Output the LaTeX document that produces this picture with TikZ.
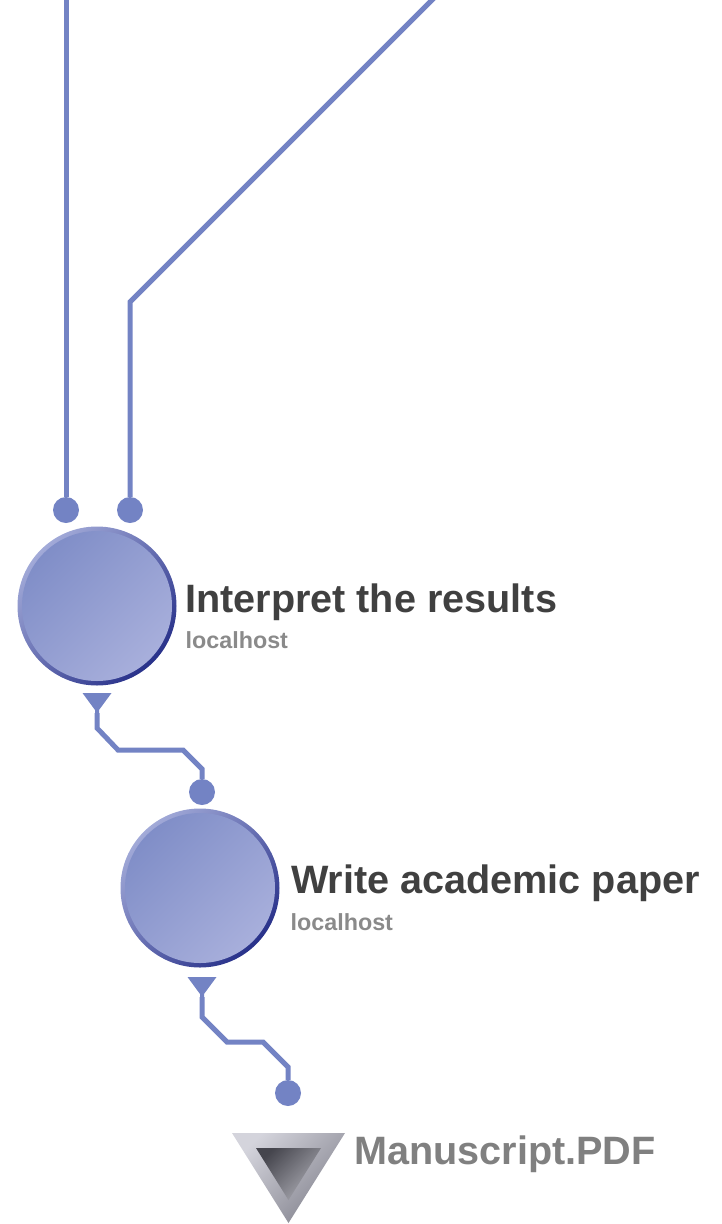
\documentclass[tikz,border=0pt]{standalone}
\usepackage{fontspec}
\setmainfont{Liberation Sans}
\definecolor{wireblue}{HTML}{7383C4}
\definecolor{rimlight}{HTML}{A2AAD8}
\definecolor{rimdark}{HTML}{28318A}
\definecolor{disklight}{HTML}{7F8DC7}
\definecolor{diskdark}{HTML}{A9B0DC}
\definecolor{titlegray}{HTML}{404040}
\definecolor{hostgray}{HTML}{8A8A8A}
\definecolor{pdfgray}{HTML}{808080}
\definecolor{bevellight}{HTML}{D4D4DC}
\definecolor{beveldark}{HTML}{83838E}
\definecolor{holedark}{HTML}{45454D}
\definecolor{holelight}{HTML}{AAAAB2}
\begin{document}
\begin{tikzpicture}[x=1pt,y=-1pt,
  wire/.style={draw=wireblue, line width=5pt, line join=miter},
  port/.style={circle, fill=wireblue, minimum size=26pt, inner sep=0pt},
  task/.style={circle, minimum size=159pt, inner sep=0pt,
    top color=rimlight, bottom color=rimdark, shading angle=45,
    path picture={\shade[top color=disklight, bottom color=diskdark, shading angle=45]
      (path picture bounding box.center) circle (75pt);}},
  funnel/.style={fill=wireblue},
  title/.style={anchor=base west, inner sep=0pt, font=\bfseries\fontsize{39.6}{44}\selectfont, text=titlegray},
  host/.style={anchor=base west, inner sep=0pt, font=\bfseries\fontsize{23.3}{26}\selectfont, text=hostgray},
]
\useasboundingbox (0,0) rectangle (721,1224);
\clip (0,0) rectangle (721,1224);

% incoming feeds from above
\coordinate (feedA) at (66,-5);
\coordinate (feedB) at (435,-3);

% input ports
\node[port] (inA) at (66,510) {};
\node[port] (inB) at (130,510) {};
\node[port] (inC) at (202,792) {};
\node[port] (inD) at (288,1093) {};

% output port tips
\coordinate (out1) at (97,713);
\coordinate (out2) at (202,997);

% connectors
\draw[wire] (feedA) -- (inA);
\draw[wire] (feedB) -- (130,302) -- (inB);
\draw[wire] (out1) -- (97,728) -- (118,750) -- (183,750) -- (202,769) -- (inC);
\draw[wire] (out2) -- (202,1017) -- (227,1042) -- (263,1042) -- (288,1067) -- (inD);

% output funnels
\fill[funnel] (out1) ++(-14.5,-20) -- ++(29,0) -- ++(-12.5,17) -- ++(0,3) -- ++(-4,0) -- ++(0,-3) -- cycle;
\fill[funnel] (out2) ++(-14.5,-20) -- ++(29,0) -- ++(-12.5,17) -- ++(0,3) -- ++(-4,0) -- ++(0,-3) -- cycle;

% tasks
\node[task] (task1) at (97,606) {};
\node[task] (task2) at (200,888) {};

\node[title] (t1) at (185,612) {Interpret the results};
\node[host] (h1) at (185.5,648) {localhost};
\node[title] (t2) at (291,893) {Write academic paper};
\node[host] (h2) at (290.5,930) {localhost};

% final output document
\shade[top color=bevellight, bottom color=beveldark, shading angle=45]
  (232,1133) -- (345,1133) -- (288.5,1223) -- cycle;
\shade[top color=holedark, bottom color=holelight, shading angle=45]
  (256,1148) -- (321,1148) -- (288.5,1200) -- cycle;
\node[title, text=pdfgray] (pdflabel) at (354,1164) {Manuscript.PDF};
\end{tikzpicture}
\end{document}
